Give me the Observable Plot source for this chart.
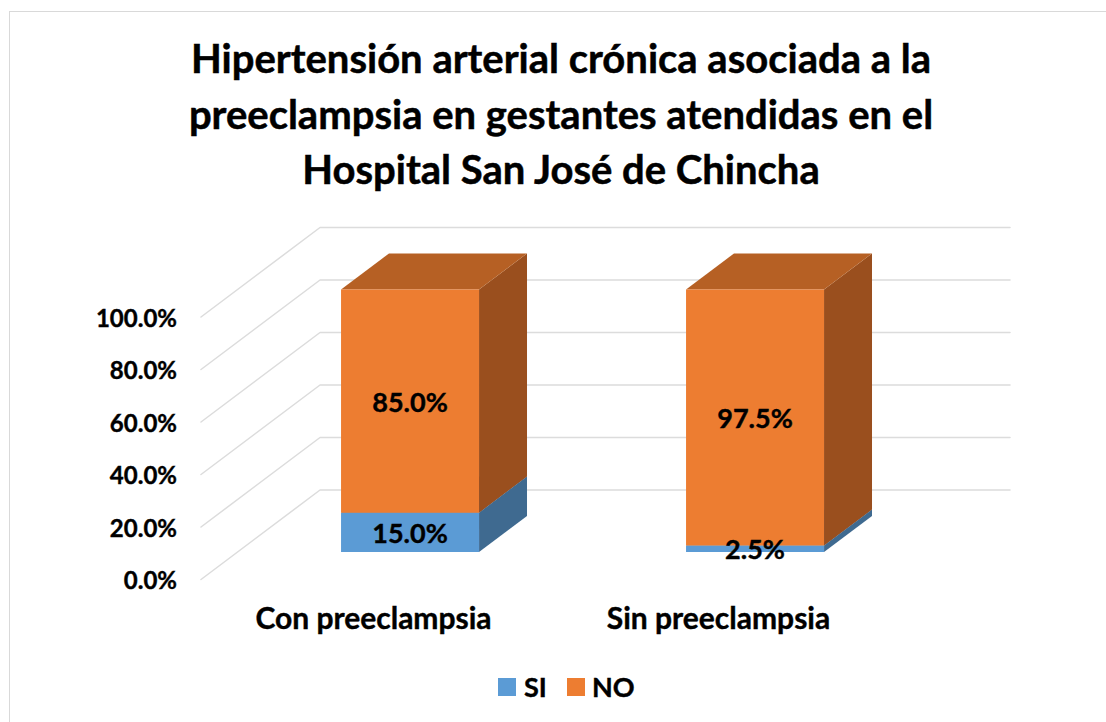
<!DOCTYPE html>
<html>
<head>
<meta charset="utf-8">
<script src="https://cdn.jsdelivr.net/npm/d3@7"></script>
<script src="https://cdn.jsdelivr.net/npm/@observablehq/plot@0.6"></script>
<style>
  html,body{margin:0;padding:0;background:#fff;}
  body{width:1106px;height:722px;overflow:hidden;position:relative;font-family:Lato,sans-serif;font-weight:700;color:#000;}
  #frame{position:absolute;left:9px;top:11px;width:1200px;height:800px;border:1.5px solid #D9D9D9;box-sizing:border-box;}
  #title{position:relative;height:205px;box-sizing:border-box;padding-top:31px;width:1122px;text-align:center;font-size:40px;line-height:55.5px;-webkit-text-stroke:0.5px #000;}
  #chart{position:relative;height:445px;}
  #chart svg{display:block;overflow:visible;}
  #chart svg text{stroke:#000;stroke-width:0.4px;}
  #legend{position:absolute;top:667px;left:0;font-size:27px;line-height:40px;height:40px;-webkit-text-stroke:0.4px #000;}
  #legend span{position:absolute;top:0;white-space:nowrap;}
  #legend i{position:absolute;top:11px;width:18px;height:18px;display:block;}
</style>
</head>
<body>
<div id="frame"></div>
<div id="title">Hipertensión arterial crónica asociada a la<br>preeclampsia en gestantes atendidas en el<br>Hospital San José de Chincha</div>
<div id="chart"></div>
<div id="legend"></div>
<script>
const categories = ["Con preeclampsia", "Sin preeclampsia"];
const si = [15.0, 2.5];
const no = [85.0, 97.5];
const seriesNames = ["SI", "NO"];
const yTicks = [0, 20, 40, 60, 80, 100];

const colors = {
  SI: {front: "#5B9BD5", side: "#3F6A90", top: "#487CAB"},
  NO: {front: "#ED7D31", side: "#9A4F1E", top: "#B66024"}
};
const grid = "#DCDCDC";

// oblique projection: d is depth 0 (front of the floor) to 1 (back wall)
const DX = 0.345, DY = 34.1;
const BAR_HALF = 0.2, D0 = 0.307, D1 = 0.71;
const pt = (x, y, d) => ({x: x + d * DX, y: y + d * DY});

const polys = [];
function box(i, name, y0, y1) {
  const c = i + 0.5, a = c - BAR_HALF, b = c + BAR_HALF, col = colors[name];
  const face = (key, pts) => pts.forEach(p => polys.push({...p, id: `${i}-${name}-${key}`, color: col[key]}));
  face("side", [pt(b, y0, D0), pt(b, y0, D1), pt(b, y1, D1), pt(b, y1, D0)]);
  face("top", [pt(a, y1, D0), pt(a, y1, D1), pt(b, y1, D1), pt(b, y1, D0)]);
  face("front", [pt(a, y0, D0), pt(b, y0, D0), pt(b, y1, D0), pt(a, y1, D0)]);
}
categories.forEach((_, i) => { box(i, "SI", 0, si[i]); box(i, "NO", si[i], si[i] + no[i]); });

const gridLines = yTicks.flatMap(t => [
  {x: 0, y: t}, pt(0, t, 1), pt(2, t, 1)
].map(p => ({...p, t})));

const labels = categories.flatMap((_, i) => [
  {...pt(i + 0.5, si[i] / 2, D0), v: si[i]},
  {...pt(i + 0.5, si[i] + no[i] / 2, D0), v: no[i]}
]);

const H = 445;
const plot = Plot.plot({
  width: 1106, height: H,
  marginLeft: 200.5, marginRight: 215.5,
  marginTop: 111.5, marginBottom: H - 374,
  x: {domain: [0, 2]},
  y: {domain: [0, 100]},
  color: {type: "identity"},
  style: {fontFamily: "Lato", fontWeight: 700, color: "#000", background: "transparent", overflow: "visible"},
  marks: [
    Plot.line(gridLines, {x: "x", y: "y", z: "t", stroke: grid, strokeWidth: 1.5}),
    Plot.line(polys, {x: "x", y: "y", z: "id", fill: "color", stroke: "none"}),
    Plot.text(labels, {x: "x", y: "y", text: d => d.v.toFixed(1) + "%", fontSize: 27, fontWeight: 700, fill: "#000", dy: 2}),
    Plot.axisY({ticks: yTicks, tickSize: 0, tickPadding: 24, dy: 2, tickFormat: d => d.toFixed(1) + "%", fontSize: 24, fontWeight: 700, label: null}),
    Plot.axisX({ticks: [0.5, 1.5], tickSize: 0, tickPadding: 28, tickFormat: d => categories[Math.floor(d)], fontSize: 30, fontWeight: 700, label: null})
  ]
});
document.getElementById("chart").append(plot);

const legend = document.getElementById("legend");
const legendX = [{sw: 498, tx: 524}, {sw: 567, tx: 592}];
seriesNames.forEach((n, i) => {
  const sw = document.createElement("i");
  sw.style.left = legendX[i].sw + "px";
  sw.style.background = colors[n].front;
  const t = document.createElement("span");
  t.style.left = legendX[i].tx + "px";
  t.textContent = n;
  legend.append(sw, t);
});
</script>
</body>
</html>
